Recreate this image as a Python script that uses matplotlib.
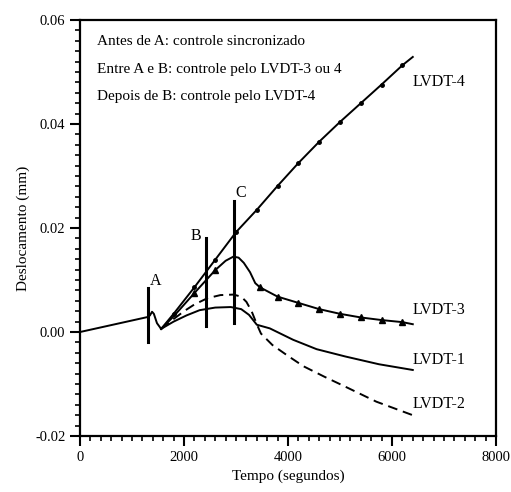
import numpy as np
import matplotlib
matplotlib.use('Agg')
import matplotlib.pyplot as plt
from matplotlib.ticker import MultipleLocator, FormatStrFormatter

plt.rcParams['font.family'] = 'Liberation Serif'
plt.rcParams['axes.unicode_minus'] = False

# trecho comum antes do vale (todos os LVDT)
t_ini = [0, 1308, 1345, 1385, 1420, 1480, 1560]
d_ini = [0.0, 0.0029, 0.0032, 0.0039, 0.0035, 0.0017, 0.0006]

# LVDT-4 (marcadores a cada 400 s)
t4 = [1560, 1800, 2200, 2600, 3000, 3400, 3800, 4200, 4600, 5000, 5400, 5800, 6200, 6400]
d4 = [0.0006, 0.0035, 0.0086, 0.0139, 0.0192, 0.0235, 0.0281, 0.0325, 0.0366, 0.0404, 0.0440, 0.0476, 0.0513, 0.0529]

# LVDT-3
t3 = [1560, 1800, 2200, 2600, 2800, 2950, 3050, 3150, 3270, 3370, 3460, 3800, 4200, 4600, 5000, 5400, 5800, 6200, 6400]
d3 = [0.0006, 0.0030, 0.0075, 0.0119, 0.0137, 0.0145, 0.0143, 0.0133, 0.0115, 0.0094, 0.0086, 0.0068, 0.0056, 0.0044,
      0.0035, 0.0028, 0.0023, 0.0019, 0.0015]
mark3 = [2, 3, 10, 11, 12, 13, 14, 15, 16, 17]

# LVDT-1
t1 = [1560, 1800, 2050, 2300, 2600, 2900, 3100, 3250, 3400, 3650, 4100, 4550, 5100, 5750, 6400]
d1 = [0.0006, 0.0020, 0.0032, 0.0042, 0.0047, 0.0048, 0.0044, 0.0033, 0.0014, 0.0007, -0.0015, -0.0033, -0.0047,
      -0.0062, -0.0073]

# LVDT-2
t2 = [1560, 1800, 2000, 2200, 2450, 2700, 2950, 3100, 3200, 3300, 3400, 3480, 3700, 4000, 4300, 4700, 5100, 5700, 6400]
d2 = [0.0006, 0.0025, 0.0040, 0.0053, 0.0065, 0.0071, 0.0072, 0.0068, 0.0058, 0.0040, 0.0015, -0.0003, -0.0025,
      -0.0046, -0.0066, -0.0086, -0.0105, -0.0134, -0.0160]

# linhas verticais A, B, C
marcas = ['A', 'B', 'C']
t_marca = [1308, 2423, 2955]
y_baixo = [-0.0020, 0.0012, 0.0017]
y_alto = [0.0084, 0.0180, 0.0251]

notas = ['Antes de A: controle sincronizado',
         'Entre A e B: controle pelo LVDT-3 ou 4',
         'Depois de B: controle pelo LVDT-4']

fig = plt.figure(figsize=(5.11, 4.92), dpi=100)
ax = fig.add_axes([0.1566, 0.1138, 0.814, 0.8455])

lw = 1.4
ax.plot(t_ini, d_ini, color='black', lw=lw)
ax.plot(t4, d4, color='black', lw=lw, marker='o', markersize=2.5, markevery=list(range(1, 13)))
ax.plot(t3, d3, color='black', lw=lw, marker='^', markersize=5, markevery=mark3)
ax.plot(t1, d1, color='black', lw=lw)
ax.plot(t2, d2, color='black', lw=lw, linestyle=(0, (5, 3)))

for m, t, yb, ya in zip(marcas, t_marca, y_baixo, y_alto):
    ax.plot([t, t], [yb, ya], color='black', lw=2.2)
ax.text(1462, 0.0098, 'A', fontsize=11.5, ha='center', va='center')
ax.text(2231, 0.0185, 'B', fontsize=11.5, ha='center', va='center')
ax.text(3096, 0.0267, 'C', fontsize=11.5, ha='center', va='center')

for i, s in enumerate(notas):
    ax.text(327, 0.0558 - i * 0.0053, s, fontsize=11, va='center', ha='left')

ax.text(6404, 0.0481, 'LVDT-4', fontsize=11.5, va='center')
ax.text(6404, 0.0042, 'LVDT-3', fontsize=11.5, va='center')
ax.text(6404, -0.0054, 'LVDT-1', fontsize=11.5, va='center')
ax.text(6404, -0.0138, 'LVDT-2', fontsize=11.5, va='center')

ax.set_xlim(0, 8000)
ax.set_ylim(-0.02, 0.06)
ax.xaxis.set_major_locator(MultipleLocator(2000))
ax.xaxis.set_minor_locator(MultipleLocator(200))
ax.yaxis.set_major_locator(MultipleLocator(0.02))
ax.yaxis.set_minor_locator(MultipleLocator(0.002))
ax.yaxis.set_major_formatter(FormatStrFormatter('%.2f'))
ax.tick_params(which='major', direction='out', length=7, width=1.5, labelsize=10.5, top=False, right=False)
ax.tick_params(which='minor', direction='out', length=3.5, width=1.2, top=False, right=False)
for sp in ax.spines.values():
    sp.set_linewidth(1.6)

ax.set_xlabel('Tempo (segundos)', fontsize=11)
ax.set_ylabel('Deslocamento (mm)', fontsize=11)

fig.savefig('out.png', dpi=100)
